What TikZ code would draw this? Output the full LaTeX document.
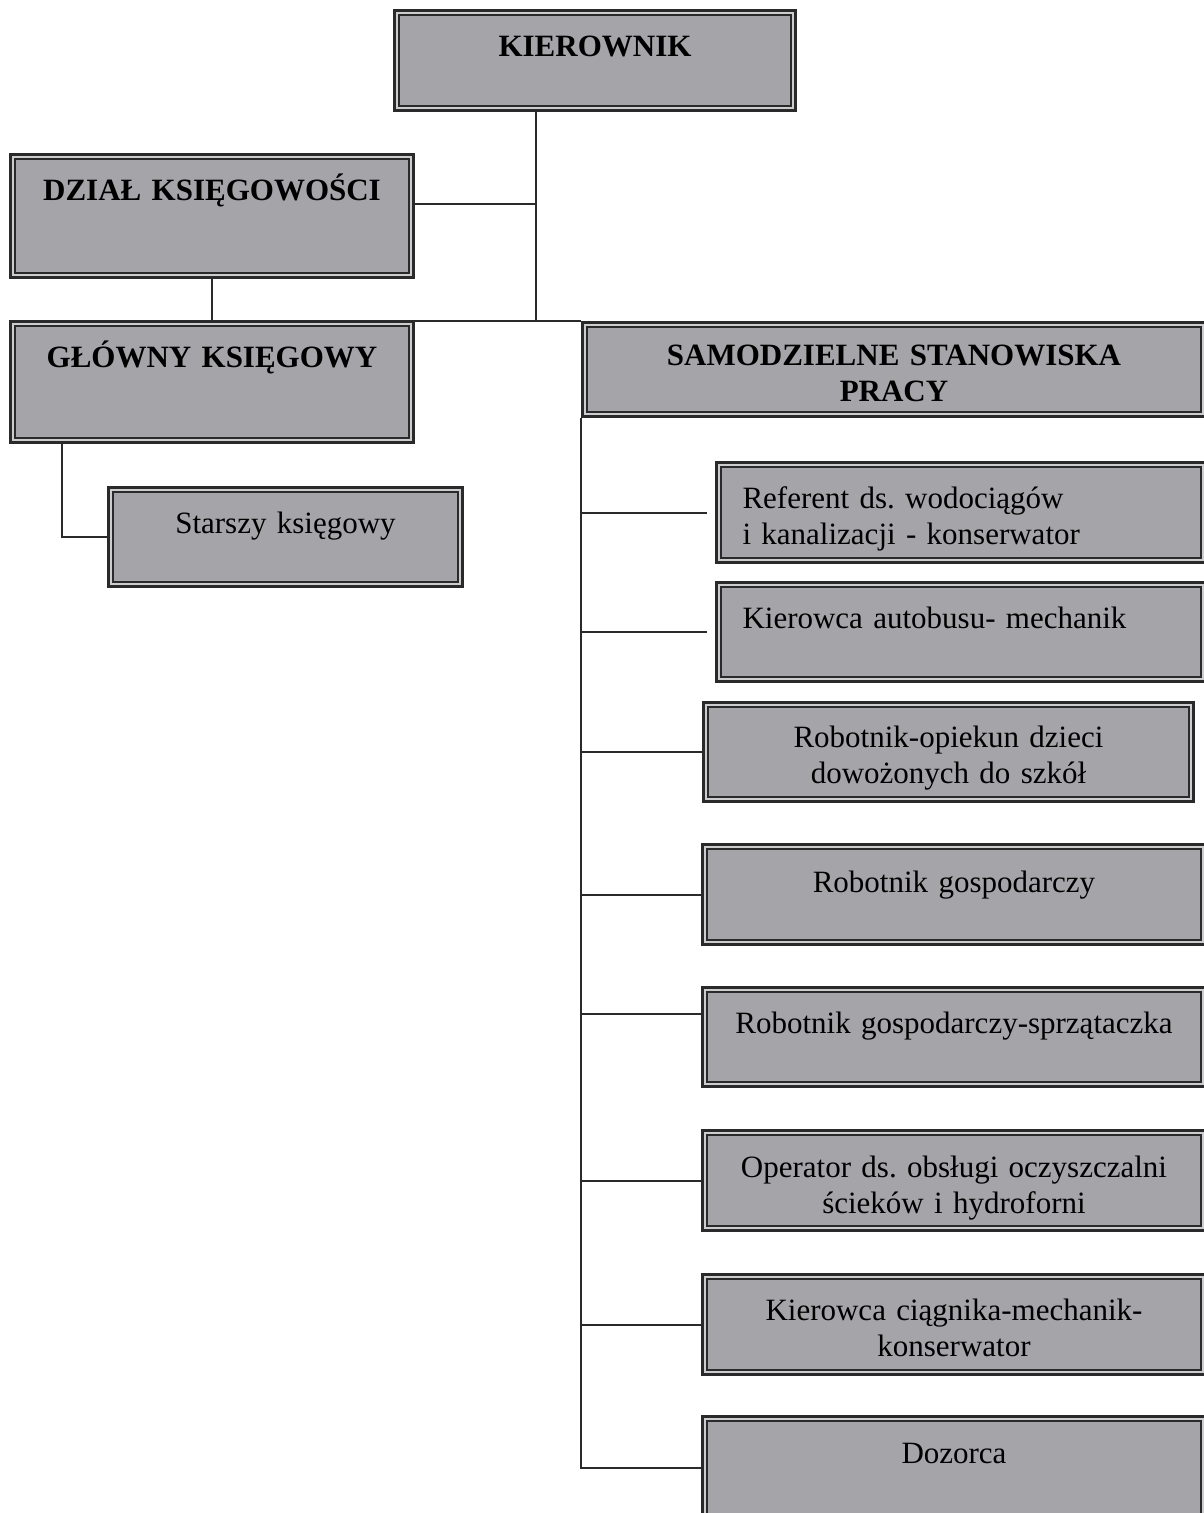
\documentclass[tikz,border=0pt]{standalone}
\usepackage{fontspec}
\setmainfont{Liberation Serif}
\usepackage{xcolor}
\usetikzlibrary{calc,positioning}
\definecolor{boxc}{HTML}{A5A5A9}
\definecolor{gapc}{HTML}{CDCDD0}
\definecolor{linec}{HTML}{2A2A2A}
\tikzset{
  unit/.style={anchor=north west,fill=gapc,draw=linec,line width=3pt,
    inner xsep=0pt,inner ysep=0pt,align=center,text height=46pt,
    font=\fontsize{31}{36}\selectfont\frenchspacing,
    path picture={
      \fill[boxc,draw=linec,line width=1.6pt]
        ([shift={(4.5pt,-4.5pt)}]path picture bounding box.north west) rectangle
        ([shift={(-4.5pt,4.5pt)}]path picture bounding box.south east);}},
  head/.style={unit,font=\fontsize{31}{36}\selectfont\bfseries},
  lunit/.style={unit,align=left,inner xsep=26pt},
  ln/.style={linec,line width=2pt}
}
\begin{document}
\begin{tikzpicture}[x=1pt,y=-1pt]
\useasboundingbox (0,0) rectangle (1203,1513);
% kierownictwo
\node[head,text width=401pt,text depth=54pt] (kier) at (393,9) {KIEROWNIK};
\node[head,text width=403pt,text depth=77pt] (dzial) at (9,153) {DZIAŁ KSIĘGOWOŚCI};
\node[head,text width=403pt,text depth=75pt] (glowny) at (9,320) {GŁÓWNY KSIĘGOWY};
\node[unit,text width=354pt,text depth=53pt] (starszy) at (107,486) {Starszy księgowy};
\node[head,text width=623pt,text depth=51pt,text height=43pt] (samo) at (581,321) {SAMODZIELNE STANOWISKA\\PRACY};
% stanowiska
\node[lunit,text width=437pt,text depth=54pt] (ref) at (715,461) {Referent ds. wodociągów\\i kanalizacji - konserwator};
\node[lunit,text width=437pt,text depth=53pt] (kaut) at (715,581) {Kierowca autobusu- mechanik};
\node[unit,text width=490pt,text depth=54pt,text height=45pt] (opiek) at (702,701) {Robotnik-opiekun dzieci\\dowożonych do szkół};
\node[unit,text width=503pt,text depth=52pt,text height=48pt] (gosp) at (701,843) {Robotnik gospodarczy};
\node[unit,text width=503pt,text depth=53pt] (sprz) at (701,986) {Robotnik gospodarczy-sprzątaczka};
\node[unit,text width=503pt,text depth=53pt,text height=47pt] (oper) at (701,1129) {Operator ds. obsługi oczyszczalni\\ścieków i hydroforni};
\node[unit,text width=503pt,text depth=54pt] (ciag) at (701,1273) {Kierowca ciągnika-mechanik-\\konserwator};
\node[unit,text width=503pt,text depth=56pt,text height=47pt] (doz) at (701,1415) {Dozorca};
\coordinate (hub) at (536,321);
\coordinate (sprzin) at ([yshift=23pt]sprz.west);
% linie
\draw[ln] (kier.south -| hub) -- (hub);
\draw[ln] ([yshift=12pt]dzial.east) -- ([yshift=12pt]dzial.east -| hub);
\draw[ln] (hub -| glowny.east) -- (hub -| samo.west);
\draw[ln] (dzial.south) -- (glowny.north);
\draw[ln] ([xshift=53pt]glowny.south west) |- (starszy.west);
\draw[ln] (samo.south west) |- (doz.west);
\foreach \n in {ref,kaut}{\draw[ln,shorten >=8pt] (samo.south west |- \n.west) -- (\n.west);}
\foreach \n in {opiek,gosp,oper,ciag}{\draw[ln] (samo.south west |- \n.west) -- (\n.west);}
\draw[ln] (samo.south west |- sprzin) -- (sprzin);
\end{tikzpicture}
\end{document}
